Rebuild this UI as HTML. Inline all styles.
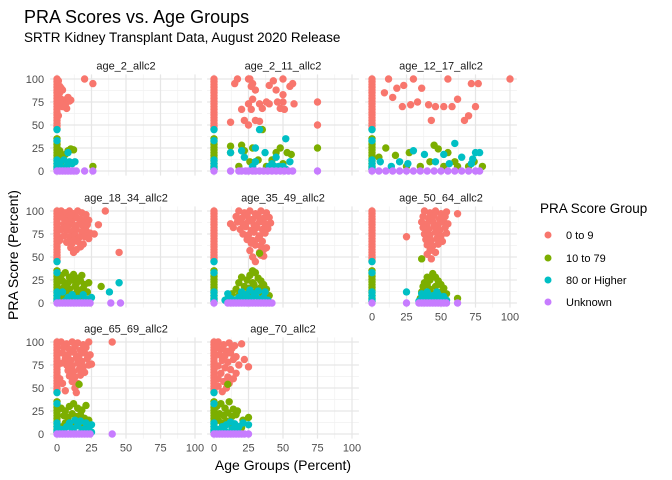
<!DOCTYPE html>
<html><head><meta charset="utf-8">
<style>
body{margin:0;background:#fff;}
svg{display:block;font-family:"Liberation Sans",sans-serif;}
</style></head>
<body>
<svg id="chart" width="672" height="480" viewBox="0 0 672 480">
<text x="24" y="23" font-size="18" fill="#000">PRA Scores vs. Age Groups</text>
<text x="24" y="42" font-size="13.5" fill="#000">SRTR Kidney Transplant Data, August 2020 Release</text>
<text transform="translate(18,255) rotate(-90)" text-anchor="middle" font-size="14" fill="#000">PRA Score (Percent)</text>
<text x="283" y="470" text-anchor="middle" font-size="14" fill="#000">Age Groups (Percent)</text>
<g id="panels"></g>
<g>
<text x="540" y="213" font-size="13.5" fill="#000">PRA Score Group</text>
<g><circle cx="548" cy="235" r="3.5" fill="#F8766D"/><text x="566" y="239" font-size="11" fill="#000">0 to 9</text></g>
<g><circle cx="548" cy="258" r="3.5" fill="#7CAE00"/><text x="566" y="262" font-size="11" fill="#000">10 to 79</text></g>
<g><circle cx="548" cy="280" r="3.5" fill="#00BFC4"/><text x="566" y="284" font-size="11" fill="#000">80 or Higher</text></g>
<g><circle cx="548" cy="302" r="3.5" fill="#C77CFF"/><text x="566" y="306" font-size="11" fill="#000">Unknown</text></g>
</g>
</svg>
<script>
const panelNames = ["age_2_allc2","age_2_11_allc2","age_12_17_allc2","age_18_34_allc2","age_35_49_allc2","age_50_64_allc2","age_65_69_allc2","age_70_allc2"];
const xTicks = [0,25,50,75,100];
const yTicks = [0,25,50,75,100];
const groupColors = ["#F8766D","#7CAE00","#00BFC4","#C77CFF"];
const colRed = [100,97,94,91,88,85,82,79,76,73,70,67,64,61,58,55,52,49,46];
const colGreen = [35,32,29,26,23,20,17,14,11,8,5,2];
const colTeal = [45,33,12,8,4,2];

const redPts = [
 [[1,98],[2,92],[3,90],[4,88],[2,85],[3,78],[5,75],[6,72],[7,78],[8,80],[9,76],[10,77],[7,68],[4,70],[1,60],[20,100],[26,95]],
 [[15,95],[17,100],[25,100],[26,100],[28,95],[30,88],[27,92],[40,93],[43,98],[45,88],[50,100],[50,83],[55,92],[57,95],[20,67],[27,67],[35,68],[33,73],[38,75],[25,73],[28,78],[46,75],[50,75],[40,73],[48,68],[51,67],[58,73],[75,75],[75,50],[12,53],[22,55],[25,50],[30,55],[33,54]],
 [[9,85],[12,100],[15,80],[18,90],[22,70],[28,72],[30,100],[36,90],[41,72],[43,55],[46,70],[52,70],[55,100],[58,70],[62,78],[67,55],[70,60],[72,95],[75,70],[77,95],[100,100],[23,93],[33,75]],
 [[3,100],[6,98],[9,100],[12,97],[15,100],[18,98],[21,96],[4,93],[8,92],[11,90],[14,93],[17,91],[20,89],[23,90],[5,86],[9,85],[13,84],[16,86],[19,83],[22,85],[3,80],[7,79],[11,78],[14,80],[18,77],[21,79],[24,76],[5,73],[9,72],[13,74],[16,71],[20,72],[23,70],[7,66],[11,65],[15,67],[19,64],[10,60],[14,58],[17,61],[12,55],[30,85],[35,100],[45,55],[27,75],[2,96],[6,89],[10,95],[7,83],[12,68],[2,68]],
 [[18,100],[22,98],[26,100],[30,97],[34,100],[38,98],[16,94],[20,92],[24,95],[28,91],[32,94],[36,92],[40,93],[17,88],[21,86],[25,89],[29,85],[33,88],[37,86],[41,87],[14,82],[19,80],[23,83],[27,79],[31,82],[35,80],[39,81],[21,75],[25,74],[29,77],[33,73],[37,76],[24,69],[28,68],[32,70],[30,63],[34,62],[36,58],[38,60],[33,55],[34,52],[28,50],[36,51],[12,86],[30,45],[27,65],[35,67],[26,57]],
 [[38,100],[42,98],[46,100],[50,97],[54,99],[37,94],[41,92],[45,95],[49,91],[53,94],[36,88],[40,86],[44,89],[48,85],[52,88],[55,86],[37,82],[41,80],[45,83],[49,79],[53,82],[38,75],[42,74],[46,77],[50,73],[54,76],[39,69],[43,68],[47,70],[51,67],[40,63],[44,62],[48,64],[42,57],[46,55],[40,53],[43,48],[25,72],[62,97]],
 [[3,100],[7,98],[11,100],[15,99],[19,97],[23,100],[5,94],[9,92],[13,95],[17,91],[21,94],[4,88],[8,86],[12,89],[16,85],[20,88],[24,86],[6,82],[10,80],[14,83],[18,79],[22,82],[25,76],[7,75],[11,74],[15,77],[19,73],[23,75],[8,69],[12,68],[16,70],[20,67],[9,63],[13,62],[17,64],[11,57],[15,55],[13,50],[14,45],[6,47],[40,100],[2,60],[4,55],[3,77]],
 [[3,100],[7,97],[11,99],[15,96],[20,98],[5,92],[9,90],[13,93],[4,86],[8,85],[12,88],[16,84],[22,81],[6,80],[10,78],[14,81],[18,75],[25,73],[3,74],[8,72],[12,70],[16,66],[5,66],[10,62],[14,60],[7,57],[11,55],[9,50],[6,46],[3,52],[2,95],[3,60]]
];
const greenPts = [
 [[2,22],[4,15],[6,18],[8,22],[10,24],[12,23],[3,10],[26,5]],
 [[12,27],[12,20],[20,28],[22,22],[28,25],[35,45],[30,10],[38,5],[42,12],[45,20],[48,25],[50,8],[53,20],[56,18],[75,25],[18,5],[26,10],[32,12]],
 [[5,15],[10,25],[17,17],[25,5],[27,20],[35,5],[42,10],[45,28],[48,24],[52,5],[55,20],[60,10],[62,5],[70,5],[74,10],[80,5]],
 [[3,30],[6,33],[9,28],[12,31],[15,27],[18,30],[4,24],[8,22],[11,25],[14,21],[17,24],[20,20],[23,22],[5,17],[9,15],[13,18],[16,14],[19,16],[22,12],[6,10],[10,8],[14,11],[18,7],[3,5],[7,3],[12,4],[32,18]],
 [[10,5],[13,10],[16,15],[18,22],[20,28],[22,18],[24,25],[26,30],[28,22],[30,33],[32,27],[34,24],[36,20],[38,15],[40,8],[22,10],[27,12],[31,15],[35,10],[18,8],[29,20],[25,16],[34,17],[33,54],[28,35]],
 [[35,5],[36,12],[37,18],[38,22],[40,28],[42,25],[44,32],[46,28],[48,24],[50,20],[52,16],[54,10],[38,8],[42,15],[46,18],[50,12],[44,10],[48,6],[40,20],[36,48],[62,5]],
 [[3,28],[6,25],[9,30],[12,33],[15,28],[18,26],[21,31],[5,20],[8,18],[11,22],[14,19],[17,21],[20,17],[23,15],[6,12],[10,10],[14,13],[18,11],[22,8],[16,54],[4,8]],
 [[2,30],[5,33],[8,28],[11,35],[14,27],[17,25],[4,22],[7,20],[10,23],[13,19],[16,21],[3,15],[6,12],[9,14],[12,11],[20,7],[25,18],[10,54],[21,15]]
];
const tealPts = [
 [[2,8],[5,12],[7,5],[9,10],[11,8],[13,10],[4,3],[8,20]],
 [[12,20],[20,22],[22,15],[30,25],[30,10],[33,45],[37,20],[40,5],[42,8],[44,5],[47,5],[50,5],[52,35],[55,10],[52,2],[45,15],[28,5]],
 [[6,10],[14,5],[20,10],[26,8],[30,22],[38,18],[46,10],[52,18],[56,8],[60,30],[65,15],[72,8],[75,20],[78,20],[73,13]],
 [[4,12],[8,6],[11,9],[15,5],[19,9],[22,4],[25,6],[6,2],[13,2],[20,2],[45,22],[38,12]],
 [[8,3],[12,5],[15,3],[18,6],[21,4],[24,7],[27,5],[30,8],[33,4],[36,6],[39,3],[20,12],[26,14],[32,13],[29,10],[23,9],[37,12],[10,10]],
 [[34,2],[36,5],[38,4],[40,7],[42,5],[44,8],[46,6],[48,9],[50,5],[52,7],[54,3],[40,12],[47,12],[25,12],[36,10],[44,3]],
 [[3,5],[7,8],[11,6],[15,9],[19,5],[23,7],[25,2],[9,12],[13,15],[17,14],[21,12],[25,10],[5,2],[12,3],[18,3]],
 [[3,5],[6,8],[9,10],[12,13],[15,11],[18,8],[21,12],[25,10],[4,2],[8,3],[13,5],[17,4]]
];
const purpleX = [
 [0,2,4,6,8,10,12,14,20,26],
 [0,12,18,20,23,25,28,30,33,36,39,42,45,48,51,54,57,75],
 [0,5,10,15,20,25,30,35,40,45,50,55,60,65,70,75,78],
 [0,2,4,6,8,10,12,14,16,18,20,22,24,39,46],
 [0,10,12,14,16,18,20,22,24,26,28,30,32,34,36,38,40,42],
 [0,25,34,36,38,40,42,44,46,48,50,52,54,62],
 [0,2,4,6,8,10,12,14,16,18,20,22,24,40],
 [0,2,4,6,8,10,12,14,16,18,20,22,25]
];

const NS = "http://www.w3.org/2000/svg";
const colX0 = [57,214,372], rowY0 = [171,303,434];
const pxPerX = 1.38, pxPerY = 0.92;
function xScale(p, v){ return colX0[p%3] + v*pxPerX; }
function yScale(p, v){ return rowY0[Math.floor(p/3)] - v*pxPerY; }
function mk(tag, attrs, parent){ const e=document.createElementNS(NS,tag); for(const k in attrs) e.setAttribute(k,attrs[k]); parent.appendChild(e); return e; }
const root = document.getElementById("panels");

panelNames.forEach((name, p) => {
  const g = mk("g", {}, root);
  
  
  const left = xScale(p,-5), right = xScale(p,105), top = yScale(p,105), bot = yScale(p,-5);
  for (let i=0;i<4;i++){
    const mv = 12.5 + 25*i;
    mk("line",{x1:xScale(p,mv),x2:xScale(p,mv),y1:top,y2:bot,stroke:"#f0f0f0","stroke-width":0.7},g);
    mk("line",{x1:left,x2:right,y1:yScale(p,mv),y2:yScale(p,mv),stroke:"#f0f0f0","stroke-width":0.7},g);
  }
  xTicks.forEach(t => mk("line",{x1:xScale(p,t),x2:xScale(p,t),y1:top,y2:bot,stroke:"#e6e6e6","stroke-width":1.2},g));
  yTicks.forEach(t => mk("line",{x1:left,x2:right,y1:yScale(p,t),y2:yScale(p,t),stroke:"#e6e6e6","stroke-width":1.2},g));
  const st = mk("text",{x:(left+right)/2,y:top-5,"text-anchor":"middle","font-size":"11","fill":"#1a1a1a"},g);
  st.textContent = name;
  
  
  if (p%3===0){
    yTicks.forEach(t => { const tx = mk("text",{x:left-6,y:yScale(p,t)+4,"text-anchor":"end","font-size":"11","fill":"#4d4d4d"},g); tx.textContent=t;
      
       });
  }
  if (p>=5){
    xTicks.forEach(t => { const tx = mk("text",{x:xScale(p,t),y:bot+13,"text-anchor":"middle","font-size":"11","fill":"#4d4d4d"},g); tx.textContent=t;
      
       });
  }
  function dot(x,y,c){ const d = mk("circle",{cx:xScale(p,x),cy:yScale(p,y),r:3.7,fill:c},g);
    
     }
  colRed.forEach(y => dot(0,y,groupColors[0]));
  redPts[p].forEach(([x,y]) => dot(x,y,groupColors[0]));
  colGreen.forEach(y => dot(0,y,groupColors[1]));
  greenPts[p].forEach(([x,y]) => dot(x,y,groupColors[1]));
  colTeal.forEach(y => dot(0,y,groupColors[2]));
  tealPts[p].forEach(([x,y]) => dot(x,y,groupColors[2]));
  purpleX[p].forEach(x => dot(x,0,groupColors[3]));
});
</script>
</body></html>
